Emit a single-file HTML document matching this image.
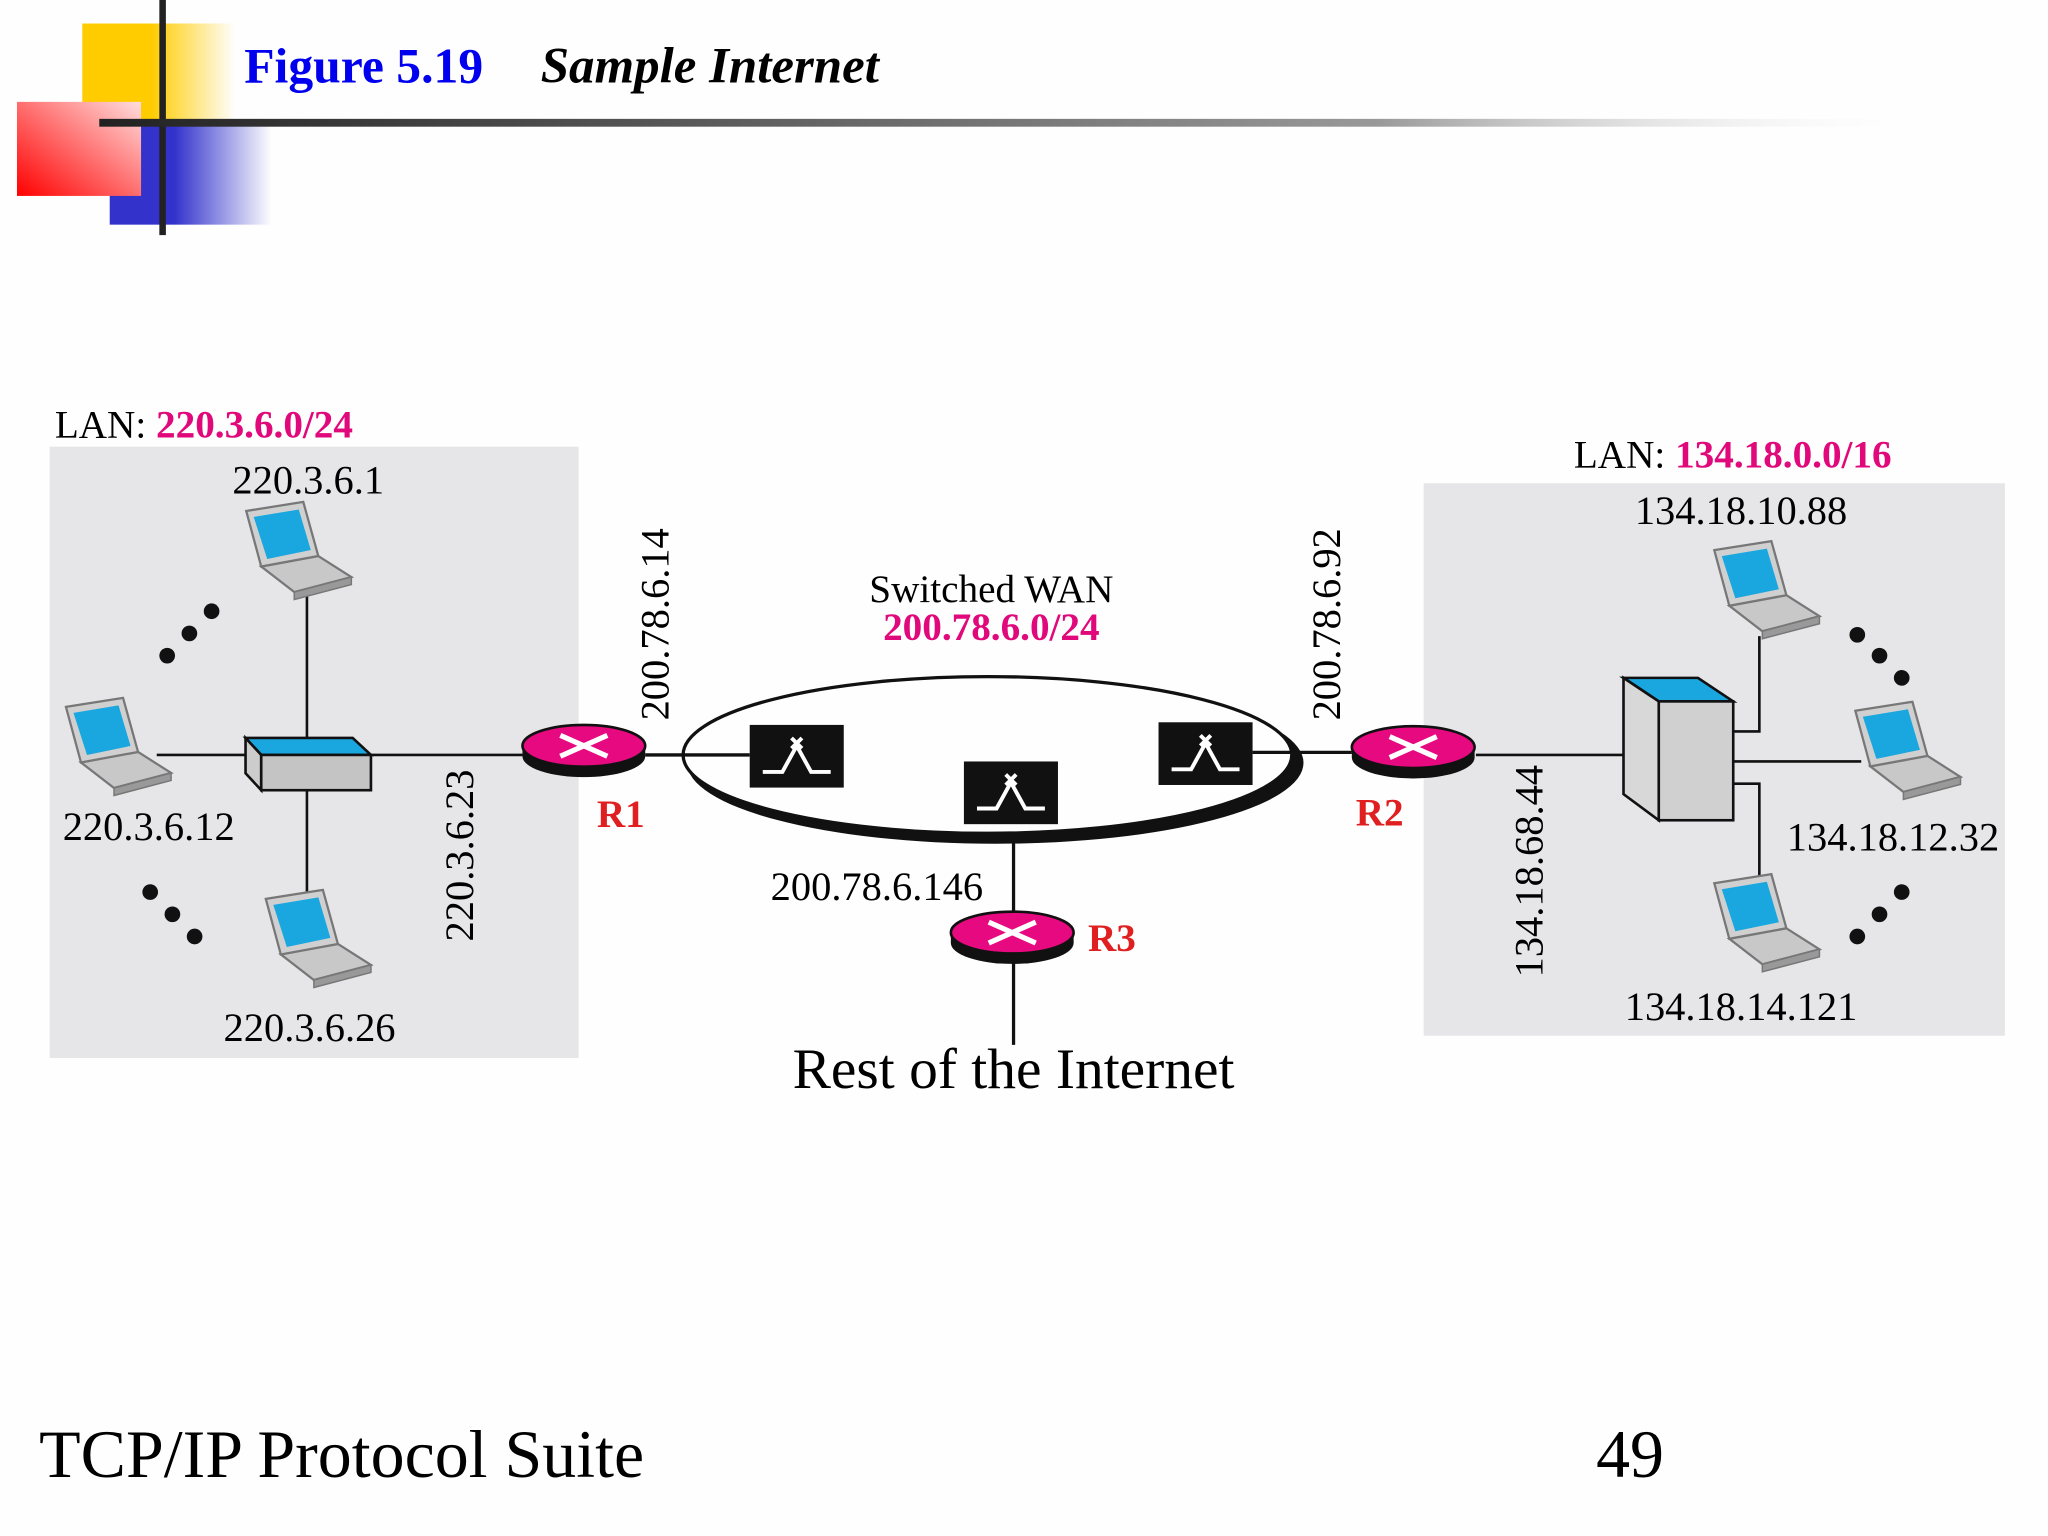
<!DOCTYPE html>
<html><head><meta charset="utf-8"><style>
html,body{margin:0;padding:0;background:#fefefe;}
svg{display:block;}
text{font-family:"Liberation Serif",serif;}
</style></head><body>
<svg width="2048" height="1536" viewBox="0 0 1568 1176" xmlns="http://www.w3.org/2000/svg">
<defs>
<linearGradient id="gy" x1="0" x2="1" y1="0" y2="0"><stop offset="0.45" stop-color="#ffcc00"/><stop offset="1" stop-color="#ffcc00" stop-opacity="0"/></linearGradient>
<linearGradient id="gb" x1="0" x2="1" y1="0" y2="0"><stop offset="0.4" stop-color="#3333cc"/><stop offset="1" stop-color="#3333cc" stop-opacity="0"/></linearGradient>
<linearGradient id="gr" x1="0" x2="1" y1="1" y2="0"><stop offset="0" stop-color="#ff0000"/><stop offset="1" stop-color="#ffdddd"/></linearGradient>
<linearGradient id="gl" x1="0" x2="1" y1="0" y2="0"><stop offset="0" stop-color="#222"/><stop offset="0.7" stop-color="#999"/><stop offset="1" stop-color="#fff" stop-opacity="0"/></linearGradient>
<g id="lap0">
<polygon points="-20,5 18,-2 40,12 2,22" fill="#c8c8c8" stroke="#777" stroke-width="1.5"/>
<polygon points="2,22 40,12 40,17 2,27" fill="#999" stroke="#777" stroke-width="1"/>
<polygon points="-30,-32 8,-38 18,-2 -20,5" fill="#d0d0d0" stroke="#777" stroke-width="1.5"/>
<polygon points="-25,-28 5,-33 13,-6 -16,0" fill="#1aa7e0"/>
</g>
<g id="lap"><use href="#lap0" transform="translate(-5,0) scale(1.15)"/></g>
<g id="rt">
<ellipse cx="0" cy="8" rx="47" ry="16" fill="#111"/>
<rect x="-47" y="0" width="94" height="8" fill="#111"/>
<ellipse cx="0" cy="0" rx="47" ry="16" fill="#e6097f" stroke="#111" stroke-width="2"/>
<path d="M-18,-8 L18,8 M-18,8 L18,-8" stroke="#fff" stroke-width="4"/>
</g>
<g id="sw">
<rect x="0" y="0" width="72" height="48" fill="#111"/>
<path d="M10,36 h15 l11,-20 l11,20 h15 M32,10 l8,8 M40,10 l-8,8" stroke="#fff" stroke-width="3" fill="none"/>
</g>
</defs>

<!-- decoration -->
<rect x="63" y="18" width="117" height="77" fill="url(#gy)"/>
<rect x="84" y="95" width="124" height="77" fill="url(#gb)"/>
<rect x="13" y="78" width="95" height="72" fill="url(#gr)"/>
<rect x="122" y="0" width="5" height="180" fill="#222"/>
<rect x="76" y="91" width="1400" height="6" fill="url(#gl)"/>
<text x="187" y="63" font-size="38" font-weight="bold" fill="#0000ee">Figure 5.19</text>
<text x="414" y="63" font-size="39" font-weight="bold" font-style="italic" fill="#000">Sample Internet</text>

<!-- boxes -->
<rect x="38" y="342" width="405" height="468" fill="#e6e6e9"/>
<rect x="1090" y="370" width="445" height="423" fill="#e6e6e9"/>

<!-- left LAN -->
<text x="42" y="335" font-size="30">LAN: <tspan fill="#e0087a" font-weight="bold">220.3.6.0/24</tspan></text>
<path d="M235,455 V700 M120,578 H400" stroke="#111" stroke-width="2"/>
<polygon points="188,565 270,565 284,578 200,578" fill="#1aa7e0" stroke="#111" stroke-width="2"/>
<polygon points="188,565 200,578 200,605 188,592" fill="#ccc" stroke="#111" stroke-width="2"/>
<rect x="200" y="578" width="84" height="27" fill="#c4c4c4" stroke="#111" stroke-width="2"/>
<use href="#lap" x="228" y="428"/>
<use href="#lap" x="90" y="578"/>
<use href="#lap" x="243" y="725"/>
<text x="236" y="378" font-size="31" text-anchor="middle">220.3.6.1</text>
<text x="48" y="643" font-size="31">220.3.6.12</text>
<text x="237" y="797" font-size="31" text-anchor="middle">220.3.6.26</text>
<g fill="#111"><circle cx="128" cy="502" r="6"/><circle cx="145" cy="485" r="6"/><circle cx="162" cy="468" r="6"/><circle cx="115" cy="683" r="6"/><circle cx="132" cy="700" r="6"/><circle cx="149" cy="717" r="6"/></g>
<text transform="translate(362,655) rotate(-90)" font-size="31" text-anchor="middle">220.3.6.23</text>
<text transform="translate(512,478) rotate(-90)" font-size="31" text-anchor="middle">200.78.6.14</text>

<!-- WAN -->
<path d="M494,578 H574 M959,576 H1035 M776,645 V800" stroke="#111" stroke-width="2.5"/>
<ellipse cx="762" cy="584" rx="236" ry="62" fill="#111"/>
<ellipse cx="756" cy="578" rx="233" ry="60" fill="#fefefe" stroke="#111" stroke-width="2.5"/>
<path d="M523,578 H574 M959,576 H990" stroke="#111" stroke-width="2.5"/>
<use href="#sw" x="574" y="555"/>
<use href="#sw" x="738" y="583"/>
<use href="#sw" x="887" y="553"/>
<text x="759" y="461" font-size="30" text-anchor="middle">Switched WAN</text>
<text x="759" y="490" font-size="30" font-weight="bold" fill="#e0087a" text-anchor="middle">200.78.6.0/24</text>
<text transform="translate(1026,478) rotate(-90)" font-size="31" text-anchor="middle">200.78.6.92</text>
<path d="M1130,578 H1243" stroke="#111" stroke-width="2"/>
<use href="#rt" x="447" y="571"/>
<use href="#rt" x="1082" y="572"/>
<use href="#rt" x="775" y="714"/>
<text x="457" y="633" font-size="30" font-weight="bold" fill="#e02020">R1</text>
<text x="1038" y="632" font-size="30" font-weight="bold" fill="#e02020">R2</text>
<text x="833" y="728" font-size="30" font-weight="bold" fill="#e02020">R3</text>
<text x="590" y="689" font-size="31">200.78.6.146</text>
<text x="776" y="833" font-size="44" text-anchor="middle">Rest of the Internet</text>

<!-- right LAN -->
<text x="1205" y="358" font-size="30">LAN: <tspan fill="#e0087a" font-weight="bold">134.18.0.0/16</tspan></text>
<path d="M1327,560 H1347 V487 M1327,583 H1425 M1327,600 H1347 V685" stroke="#111" stroke-width="2" fill="none"/>
<polygon points="1243,519 1300,519 1327,537 1270,537" fill="#1aa7e0" stroke="#111" stroke-width="2"/>
<polygon points="1243,519 1270,537 1270,628 1243,608" fill="#d8d8d8" stroke="#111" stroke-width="2"/>
<rect x="1270" y="537" width="57" height="91" fill="#d0d0d0" stroke="#111" stroke-width="2"/>
<use href="#lap" x="1352" y="458"/>
<use href="#lap" x="1460" y="581"/>
<use href="#lap" x="1352" y="713"/>
<text x="1333" y="401" font-size="31" text-anchor="middle">134.18.10.88</text>
<text x="1368" y="651" font-size="31">134.18.12.32</text>
<text x="1333" y="781" font-size="31" text-anchor="middle">134.18.14.121</text>
<g fill="#111"><circle cx="1422" cy="486" r="6"/><circle cx="1439" cy="502" r="6"/><circle cx="1456" cy="519" r="6"/><circle cx="1456" cy="683" r="6"/><circle cx="1439" cy="700" r="6"/><circle cx="1422" cy="717" r="6"/></g>
<text transform="translate(1181,667) rotate(-90)" font-size="31" text-anchor="middle">134.18.68.44</text>

<!-- footer -->
<text x="30" y="1131" font-size="52">TCP/IP Protocol Suite</text>
<text x="1222" y="1131" font-size="52">49</text>
</svg>
</body></html>
